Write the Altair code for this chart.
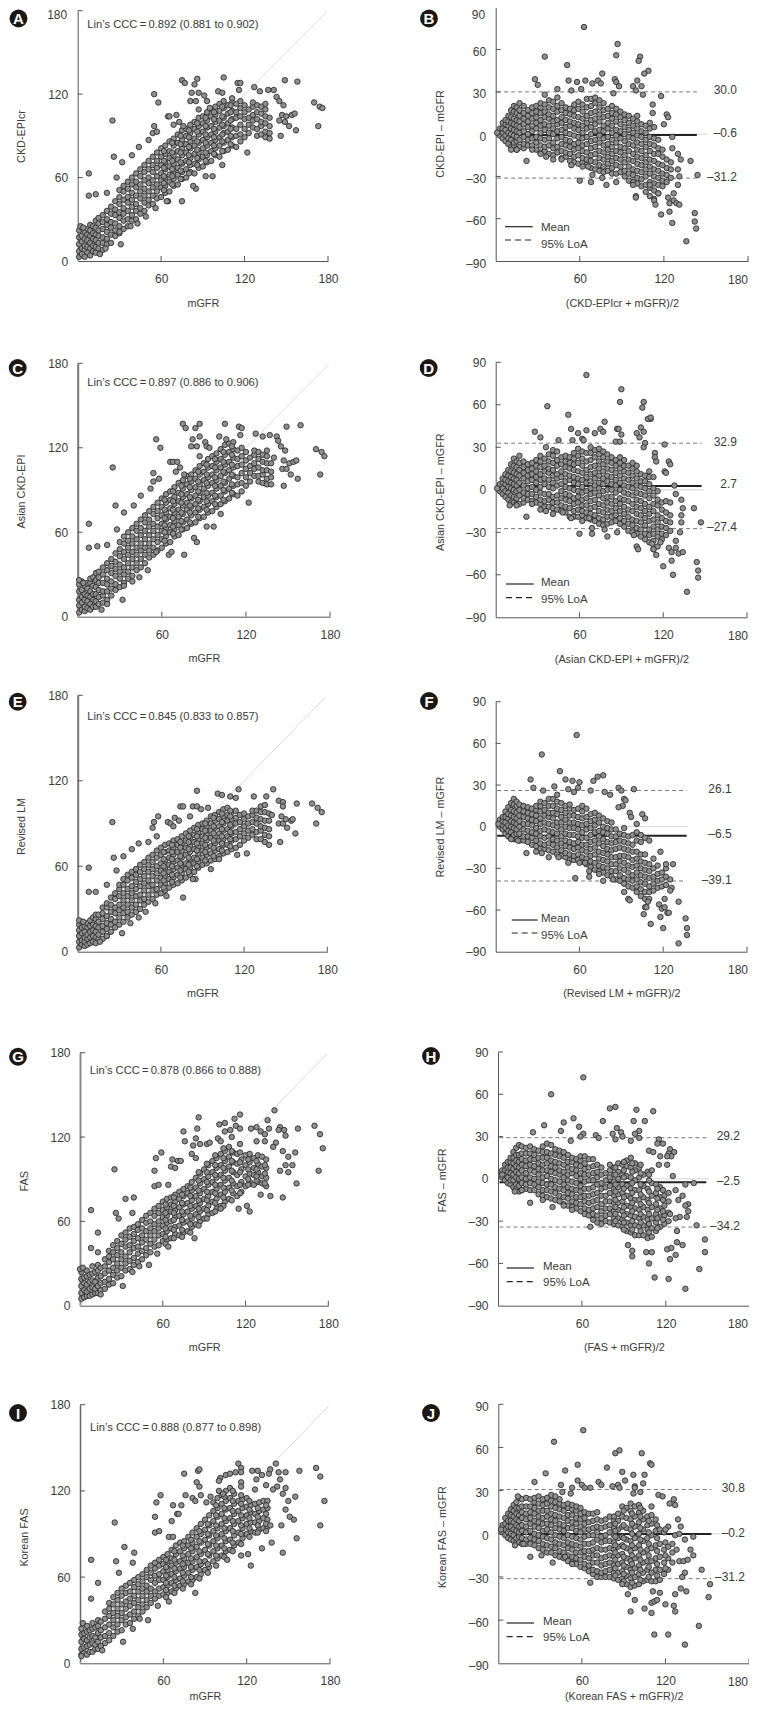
import altair as alt
import pandas as pd

FONT = "Liberation Sans"
INK = "#3a3a3a"
W, H = 741, 1696
FS = 12
TITLE_FS = 10.8

A_cloud = [[1,3,7,12,17,22],[3,5,9,14,18,24],[5,3,8,11,16,21],[7,6,10,15,19,23],[9,4,9,13,18,22,26],[11,7,11,16,20,25],[13,6,10,15,19,24,29],[15,9,13,18,22,27,31],[18,8,13,17,23,28,33],[21,12,16,21,26,30,36],[24,13,19,24,28,34,39],[27,18,22,27,33,37,43],[30,20,25,31,35,41,46,51],[33,23,29,34,38,44,50,54],[36,25,30,36,42,46,52,57],[39,29,33,39,44,49,55,60],[42,30,36,41,47,53,57,63],[45,34,38,45,50,55,61,66],[48,36,42,47,52,58,64,69],[51,40,44,50,56,60,66,72],[54,41,47,53,58,64,69,75],[57,45,50,55,61,67,72,78],[60,46,53,58,63,69,75,81],[63,49,54,60,66,71,77,83],[66,50,57,62,68,74,79,86],[69,54,59,65,70,76,83,88],[72,55,62,67,73,79,85,91],[75,59,64,70,76,81,87,94],[78,60,66,72,78,84,90,95],[81,64,69,74,81,86,92,98],[84,63,70,77,83,88,95,100],[87,67,73,78,85,91,97,103],[90,68,75,81,87,93,99,104],[93,71,76,83,89,96,101,107],[96,72,79,85,91,97,104,109],[99,76,81,87,93,100,105,111],[102,75,83,89,96,101,108,113],[105,79,85,92,97,103,110,115],[108,80,87,93,99,106,112],[111,83,89,96,102,108,114,117],[114,82,90,95,103,107,113],[117,86,91,98,104,110,115],[120,89,95,102,107,112],[123,92,98,103,109],[126,96,101,105,111,114],[129,90,95,102,107,112],[132,91,97,100,106,111],[135,89,93,99,104,109,113],[138,88,92,97,103]]
A_fill = [[62,51,56,61,67,72,79],[68,55,61,66,72,78,85],[74,59,65,71,78,84,90],[80,63,71,76,82,89,94],[86,69,74,80,86,93,99],[92,72,78,85,91,97,103],[98,77,83,89,95,102,107],[104,79,86,91,98,104,111],[110,84,90,95,101,107,112]]
A_out = [(8,63),(8,47),(13,48),(21,49),(25,101),(26,75),(32,71),(39,76),(28,60),(55,97),(55,120),(58,114),(51,87),(44,82),(54,92),(57,93),(65,104),(66,104),(71,105),(73,100),(69,98),(76,97),(75,130),(77,128),(86,131),(84,127),(82,121),(87,121),(81,115),(85,115),(91,119),(93,115),(95,110),(87,109),(105,132),(101,122),(104,121),(115,128),(117,128),(116,123),(127,125),(131,122),(137,123),(141,123),(149,130),(158,129),(143,118),(145,115),(148,112),(147,105),(150,104),(154,105),(156,106),(145,101),(149,100),(152,97),(157,94),(146,90),(170,114),(174,111),(176,110),(173,97),(122,78),(104,69),(97,61),(92,61),(85,52),(83,54),(75,43),(65,43),(64,43),(56,38),(49,32),(43,27),(38,25),(31,12),(30,21),(16,5),(20,9),(2,25),(4,24)]

C_cloud = [[1,3,8,12,18,23],[3,5,10,14,19,25],[5,4,7,12,16,22],[7,6,11,15,20,24],[9,5,9,14,18,24,27],[11,7,12,16,22,28],[13,7,11,16,21,26,31],[15,9,14,19,24,28,32],[18,10,15,18,24,30,35],[21,12,18,23,27,33,38],[24,15,20,25,31,36,41],[27,19,23,29,34,39,45],[30,21,27,32,37,43,48,53],[33,24,30,35,41,46,52,57],[36,27,32,38,44,49,54,60],[39,29,35,41,46,52,57,63],[42,33,38,44,49,55,61,66],[45,35,41,47,52,58,63,69],[48,38,44,49,55,61,67,72],[51,42,47,52,58,64,69,75],[54,44,49,55,61,66,73,78],[57,47,53,58,64,70,75,81],[60,49,55,61,66,72,78,84],[63,52,57,63,69,74,81,87],[66,53,60,65,71,77,83,89],[69,57,62,68,74,80,85,92],[72,58,65,71,76,82,88,95],[75,62,67,73,79,85,91,97],[78,63,69,76,81,87,94,100],[81,66,72,78,84,90,96,101],[84,67,74,80,86,92,98,104],[87,70,76,82,88,94,101,107],[90,71,78,85,91,97,103,109],[93,74,80,86,93,99,106,112],[96,75,82,88,95,101,107,114],[99,78,85,91,97,104,110,116],[102,80,86,93,100,106,112,119],[105,82,89,95,102,108,115,122],[108,84,91,98,104,110,117,123],[111,87,93,100,106,113,119,124],[114,86,94,99,107,112,118],[117,89,95,102,108,114,120],[120,93,99,105,111,117],[123,96,102,107,113],[126,100,105,109,115,118],[129,96,100,106,112,117],[132,95,101,104,110,115],[135,94,98,104,109,114,118],[138,94,99,103,109]]
C_fill = [[62,54,60,65,70,76,83],[68,59,64,70,76,82,89],[74,62,68,74,81,87,93],[80,67,74,79,85,92,98],[86,71,77,83,89,96,103],[92,76,82,88,95,101,108],[98,80,86,93,99,106,112],[104,83,90,96,103,110,117],[110,88,94,101,108,115,121]]
C_out = [(8,66),(8,49),(14,50),(21,51),(25,106),(27,79),(33,74),(40,79),(28,62),(54,102),(56,126),(59,120),(52,91),(45,86),(54,96),(58,98),(66,110),(68,110),(71,110),(73,106),(70,103),(76,101),(75,137),(77,134),(87,137),(84,134),(82,126),(87,128),(81,121),(85,121),(91,124),(92,121),(94,120),(87,114),(105,137),(101,128),(106,126),(115,135),(117,134),(116,129),(127,130),(132,128),(137,129),(142,128),(149,135),(159,136),(143,125),(145,121),(148,118),(140,113),(146,105),(149,105),(147,111),(151,109),(154,110),(156,111),(152,101),(157,98),(147,93),(170,119),(174,117),(176,114),(173,101),(122,81),(102,73),(97,64),(92,64),(85,53),(83,56),(76,44),(65,44),(67,46),(56,46),(50,33),(44,28),(39,25),(32,12),(33,22),(17,5),(21,9),(1,26),(4,24)]

E_cloud = [[1,3,7,11,15,19],[3,5,8,13,17,21],[5,4,7,10,14,18],[7,5,9,12,17,20],[9,6,10,14,18,22],[11,7,11,15,19,24],[13,6,10,14,18,23,26],[15,9,12,17,21,26],[18,9,14,18,23,27,31],[21,11,16,20,25,31,34],[24,14,19,23,28,33,38],[27,17,21,27,31,37,41],[30,19,24,29,33,39,44,47],[33,21,27,31,36,41,47,51],[36,24,28,33,39,44,50,54],[39,26,31,36,41,46,52,56],[42,28,33,39,44,49,54,58],[45,30,36,40,46,51,56,61],[48,33,37,43,48,53,58,63],[51,35,40,46,50,56,61,66],[54,37,43,47,53,58,63,68],[57,40,44,50,55,60,66,71],[60,41,47,52,57,62,68,73],[63,43,48,53,59,64,70,75],[66,45,51,56,61,66,71,76],[69,47,52,58,63,68,73,78],[72,48,54,59,64,70,75,79],[75,50,55,61,66,71,76,81],[78,52,58,62,68,73,78,83],[81,54,59,65,70,74,80,85],[84,56,62,66,72,77,82,87],[87,59,63,69,74,79,84,89],[90,61,66,71,76,81,86,90],[93,62,68,73,78,82,88,92],[96,64,69,74,80,85,90,95],[99,65,71,76,81,87,92,96],[102,67,72,78,83,88,93,98],[105,69,75,79,85,90,95,100],[108,70,75,81,86,92,96,101],[111,72,78,83,88,93,98],[114,73,79,84,90,94,99],[117,75,81,86,91,96],[120,78,83,88,93,97],[123,80,85,90,95],[126,82,86,91,96,99],[129,79,84,90,94,99],[132,79,85,88,93,98,102],[135,77,82,87,92,98,103],[138,75,81,86,92,97]]
E_fill = [[62,45,50,55,60,65,70],[68,49,54,60,65,70,75],[74,52,57,62,67,73,77],[80,56,61,66,72,77,81],[86,60,65,71,76,81,86],[92,64,70,75,80,85,90],[98,67,73,78,83,88,94],[104,71,76,81,86,91,97],[110,74,79,84,89,95,99]]
E_out = [(8,59),(8,42),(13,42),(21,47),(25,91),(26,66),(33,67),(39,72),(28,57),(58,95),(55,91),(54,87),(57,81),(44,76),(51,77),(65,91),(67,90),(70,94),(73,92),(69,88),(74,102),(76,102),(86,113),(83,102),(86,102),(89,100),(94,101),(81,95),(101,111),(104,110),(110,109),(116,114),(114,108),(127,109),(136,109),(141,114),(145,106),(148,105),(148,102),(158,104),(140,96),(147,95),(145,90),(148,90),(150,93),(154,92),(155,93),(151,87),(157,83),(146,77),(169,104),(173,101),(176,98),(172,90),(122,69),(115,68),(102,65),(96,58),(85,51),(83,51),(76,38),(64,39),(56,34),(49,28),(44,24),(38,20),(32,13),(16,7),(21,11),(1,22),(4,21)]

G_cloud = [[1,5,9,14,19,24],[3,6,11,16,20],[5,7,10,15,21,25],[7,7,12,17,22],[9,8,13,18,23,28],[11,9,12,17,24],[13,9,14,20,25,29],[15,11,16,21,27],[18,12,17,23,28,33],[21,15,19,25,31,35,39],[24,16,22,27,33,38,43],[27,20,25,30,36,41,46],[30,21,27,33,38,44,50],[33,25,30,35,42,47,52],[36,26,32,38,43,49,55],[39,29,34,41,46,51,56],[42,31,37,42,48,54,58],[45,33,39,45,50,55,61],[48,36,41,47,53,59,64],[51,38,44,50,55,60,66],[54,42,47,53,58,64,69],[57,43,50,55,60,66,71],[60,46,51,57,63,68,74],[63,47,53,59,64,70,76],[66,48,55,60,67,72,77],[69,51,56,63,68,74,79],[72,50,57,64,70,76,81],[75,52,59,65,72,78,83],[78,53,60,67,73,80,85],[81,56,62,69,75,82,88],[84,58,65,71,78,84,91],[87,60,67,73,80,87,94],[90,62,69,76,83,90,97],[93,65,71,78,86,92,100],[96,66,74,81,88,95,103],[99,69,76,83,91,98,105],[102,71,79,86,93,100,108],[105,74,81,89,96,103,110],[108,76,84,91,99,106,113],[111,80,87,95,102,109],[114,78,85,93,101,108],[117,81,88,97,104],[120,85,92,100,107],[123,88,94,102,108],[126,86,93,98,105],[129,88,95,101,107],[132,87,92,99,106],[135,85,91,98,104]]
G_fill = [[62,44,49,55,61,66,72],[68,48,54,61,66,71,77],[74,49,54,61,67,73,79],[80,52,58,64,71,78,84],[86,57,63,69,75,82,89,95],[92,62,68,75,81,88,95,101],[98,67,73,80,86,93,100,107],[104,71,77,84,91,98,105,112],[110,75,82,89,96,103,110],[116,80,86,95,102,109],[122,86,90,97,104],[128,89,92,97,103],[134,87,94,100]]
G_out = [(8,68),(8,41),(13,52),(13,38),(25,97),(26,66),(28,62),(33,76),(39,77),(38,66),(31,14),(38,24),(43,28),(50,29),(55,105),(59,109),(54,96),(54,85),(57,86),(64,86),(66,99),(67,104),(69,98),(71,103),(73,103),(75,124),(76,117),(86,134),(85,126),(84,119),(87,115),(82,114),(81,108),(84,105),(92,115),(94,116),(101,129),(105,130),(100,119),(102,117),(105,124),(109,125),(110,120),(112,133),(116,136),(113,128),(116,126),(116,115),(124,126),(128,127),(131,124),(137,126),(136,132),(141,139),(145,127),(148,125),(149,121),(144,125),(142,116),(140,113),(134,122),(134,117),(128,117),(147,110),(151,106),(156,109),(158,126),(170,128),(174,122),(176,112),(173,96),(149,100),(154,100),(145,96),(151,95),(157,87),(147,77),(138,78),(131,79),(115,69),(121,71),(123,67),(102,69),(83,48),(64,42),(56,37),(15,8),(0,26),(2,27)]

I_cloud = [[1,6,10,15,20,24],[3,7,11,17,21],[5,6,12,16,22,26],[7,8,13,18,23],[9,8,14,19,24,28],[11,10,13,18,25],[13,10,15,21,26,30],[15,12,18,23,29],[18,14,19,25,31,36],[21,16,21,27,33,38,42],[24,19,25,30,35,41,46],[27,22,27,33,38,44,49],[30,23,30,35,41,47,52],[33,27,32,38,43,49,54],[36,28,34,40,45,50,56],[39,31,36,42,47,53,58],[42,33,39,44,50,55,60],[45,36,41,47,52,57,62],[48,39,44,50,54,60,65],[51,42,47,52,58,63,68],[54,45,50,56,61,66,70],[57,47,52,58,62,68,72],[60,48,53,58,64,69,74],[63,49,54,60,65,71,76],[66,50,56,62,68,73,79],[69,52,58,64,70,76,82],[72,54,59,66,71,78,84],[75,55,61,67,73,80,85],[78,57,63,70,76,82,88],[81,58,65,71,78,84,91],[84,60,67,74,81,88,94],[87,62,69,76,84,90,97],[90,65,71,79,86,93,100],[93,67,75,82,89,96,103],[96,71,78,85,92,99,106,112],[99,73,80,87,94,102,108,115],[102,75,82,90,97,104,111,117],[105,78,85,92,99,107,113,120],[108,79,86,94,101,108,115,122],[111,82,89,97,104,111,118],[114,84,91,99,106,113],[117,87,94,101,108,114],[120,90,97,103,109,115],[123,92,98,105,110],[126,91,98,104,111],[129,93,99,106,112],[132,94,101,107,113],[135,95,100,108,113]]
I_fill = [[62,46,51,56,61,67,72],[68,49,54,60,66,72,78],[74,52,57,63,69,75,82],[80,55,60,67,73,80,86],[86,59,65,71,78,85,92],[92,63,69,76,83,90,97],[98,68,75,82,89,96,103,110],[104,74,80,87,94,101,108,116],[110,78,84,92,99,106,113,120],[116,83,90,96,103,111,117],[122,88,94,101,107,113],[128,91,96,102,108],[134,92,97,104,110]]
I_out = [(8,72),(8,45),(13,56),(25,98),(26,71),(32,81),(39,77),(38,70),(28,63),(31,15),(38,24),(49,30),(43,31),(56,40),(64,43),(83,49),(55,112),(58,117),(54,102),(54,91),(57,92),(64,88),(67,88),(66,99),(67,110),(70,104),(71,104),(73,110),(75,132),(76,117),(85,134),(86,135),(84,126),(86,123),(81,115),(83,113),(87,117),(91,112),(94,116),(101,129),(100,127),(105,131),(108,132),(112,133),(114,139),(116,136),(116,133),(100,120),(103,118),(116,126),(116,123),(124,134),(128,134),(131,131),(136,132),(137,135),(141,139),(143,133),(148,133),(144,128),(142,123),(139,121),(134,124),(127,128),(126,121),(148,122),(146,118),(155,116),(158,134),(170,136),(173,130),(176,113),(173,96),(150,113),(148,107),(151,102),(154,100),(145,96),(137,96),(156,87),(146,77),(138,84),(131,80),(116,75),(121,76),(123,68),(106,72),(2,28),(16,9),(1,5)]

B_cloud = [[3,-1,2,4],[5,-3,1,4,8],[7,-5,-1,3,7,10],[9,-7,-3,1,6,9,13],[11,-9,-4,0,4,8,12,17],[13,-8,-6,-1,3,7,11,16,20],[15,-11,-5,-2,2,6,10,15,19],[17,-9,-4,1,5,9,13,17,22],[20,-10,-7,-2,2,7,11,15,20],[23,-8,-4,0,5,9,13,17],[26,-8,-3,2,6,11,15,19],[29,-11,-6,-2,4,8,12,16,20],[32,-13,-8,-3,1,6,10,15,19,22],[35,-12,-9,-4,3,7,12,16,21],[38,-14,-8,-3,1,6,11,14,19,24],[41,-15,-10,-6,0,4,9,13,18,23],[44,-13,-9,-3,2,7,10,16,20,26],[47,-17,-12,-7,-2,3,8,12,17,22],[50,-16,-13,-8,-4,1,5,10,15,19],[53,-19,-14,-9,-5,0,6,9,14,18],[56,-20,-16,-11,-7,-1,4,8,13,17,21],[59,-21,-15,-10,-6,-2,3,7,12,18,23],[62,-20,-17,-12,-8,-3,1,6,11,16,21],[65,-22,-18,-13,-7,-2,4,8,13,19,25],[68,-24,-19,-15,-10,-5,0,5,10,15,20,25],[71,-25,-20,-14,-9,-4,2,7,11,16,22,26],[74,-26,-22,-17,-12,-6,-1,3,9,14,19,24],[77,-27,-23,-18,-13,-8,-3,2,6,12,17,22],[80,-26,-21,-16,-11,-7,-2,4,8,13,18],[83,-28,-24,-19,-14,-9,-4,1,6,11,15,20],[86,-28,-22,-17,-12,-6,-1,3,9,14,18],[89,-27,-23,-18,-13,-9,-3,2,7,12,16],[92,-30,-26,-20,-15,-10,-5,0,5,10,14],[95,-33,-28,-23,-18,-12,-7,-2,3,8,13],[98,-34,-29,-25,-19,-14,-8,-3,1,6,11],[101,-35,-31,-26,-21,-16,-11,-6,-1,4,9,13],[104,-37,-32,-27,-22,-17,-12,-7,-2,2,7],[107,-41,-36,-30,-25,-20,-15,-9,-4,1,6],[110,-44,-38,-34,-28,-23,-18,-12,-7,-2,4,8],[113,-46,-40,-35,-30,-25,-19,-14,-8,-3,5],[116,-42,-36,-31,-26,-21,-14,-10,-4],[119,-37,-33,-28,-22,-16,-11],[122,-34,-29,-24,-18],[125,-31,-25,-20]]
B_out = [(63,76),(87,64),(86,56),(103,55),(102,52),(109,45),(106,43),(35,55),(51,49),(28,39),(30,35),(52,38),(58,37),(64,38),(69,36),(73,38),(75,36),(76,43),(85,39),(86,37),(88,34),(98,34),(101,38),(100,31),(104,34),(105,28),(118,27),(112,21),(112,15),(122,14),(123,12),(120,7),(35,28),(44,32),(54,31),(61,32),(84,29),(22,-19),(11,-11),(15,-11),(26,-11),(32,-14),(36,-16),(41,-18),(47,-18),(54,-22),(60,-33),(62,-23),(66,-23),(69,-29),(68,-34),(76,-31),(79,-36),(86,-34),(98,-36),(100,-44),(100,-45),(110,-36),(113,-47),(114,-50),(116,-42),(118,-57),(123,-45),(124,-49),(124,-55),(126,-63),(127,-42),(127,-47),(129,-49),(131,-50),(130,-36),(131,-30),(130,-25),(132,-18),(130,-14),(126,-10),(126,-2),(139,-19),(144,-29),(142,-56),(142,-62),(143,-67),(136,-76),(1,1)]

D_cloud = [[3,-1,2,4],[5,-3,1,5,8],[7,-5,-1,4,7,11],[9,-7,-2,2,6,10,14],[11,-9,-4,1,5,9,13,18],[13,-9,-5,0,4,8,12,17,22],[15,-10,-6,-1,3,7,11,16,20],[17,-10,-4,0,5,10,14,19,24],[20,-9,-6,-2,3,8,12,16,20],[23,-7,-3,1,6,10,14,18],[26,-8,-3,2,7,11,15,19],[29,-9,-5,0,5,9,13,17,21],[32,-10,-7,-2,2,7,11,16,20,24],[35,-12,-8,-3,4,8,13,17,22],[38,-12,-7,-3,2,7,12,15,20,25],[41,-13,-9,-5,1,5,10,14,19,24,28],[44,-14,-9,-4,3,8,11,17,21,27],[47,-15,-11,-6,-1,4,9,13,18,23],[50,-16,-12,-7,-3,2,6,11,16,20,24],[53,-19,-13,-8,-4,1,7,10,15,19,23],[56,-19,-15,-10,-6,0,5,9,14,18,22,26],[59,-19,-14,-9,-5,-1,4,8,13,19,24,29],[62,-18,-15,-11,-7,-2,2,7,12,17,22,27],[65,-20,-16,-11,-6,-1,5,9,14,20,26],[68,-21,-17,-13,-8,-3,1,6,11,16,21,26,30],[71,-22,-18,-12,-7,-2,3,8,12,17,23,28],[74,-24,-20,-15,-10,-4,1,5,10,15,20,25,29],[77,-25,-21,-16,-11,-6,-1,4,8,13,18,23,27],[80,-24,-19,-14,-9,-5,0,6,10,15,20,25],[83,-23,-19,-15,-10,-5,0,4,9,14,19,23],[86,-22,-18,-13,-8,-2,3,7,12,17,21],[89,-24,-20,-15,-10,-6,0,5,10,15,19,23],[92,-26,-22,-17,-12,-7,-2,3,8,13,17,21],[95,-29,-24,-19,-14,-8,-3,2,7,12,17],[98,-30,-25,-21,-15,-10,-4,1,5,10,15,19],[101,-31,-27,-22,-17,-12,-7,-2,3,8,13,17],[104,-33,-28,-23,-18,-13,-8,-3,2,6,11],[107,-35,-31,-25,-20,-15,-10,-4,1,6,10],[110,-37,-32,-28,-22,-17,-12,-6,-1,4,9,13],[113,-42,-36,-31,-26,-21,-15,-10,-4,1,9],[116,-40,-33,-28,-23,-18,-11,-7,-1],[119,-35,-31,-26,-20,-14,-9],[122,-32,-27,-22,-16,-8],[125,-29,-23,-18,-9]]
D_out = [(65,81),(90,71),(89,62),(106,62),(105,58),(111,50),(109,50),(111,51),(37,59),(52,53),(28,41),(32,37),(54,43),(59,40),(65,42),(71,40),(75,43),(77,41),(78,48),(87,43),(88,43),(90,39),(86,34),(89,34),(101,40),(104,44),(106,41),(103,37),(107,33),(106,30),(121,32),(114,26),(114,23),(115,20),(124,20),(125,18),(121,13),(122,12),(36,30),(45,35),(55,35),(62,36),(63,35),(22,-19),(10,-11),(15,-11),(26,-10),(32,-14),(36,-15),(41,-17),(48,-16),(54,-20),(60,-31),(62,-22),(67,-20),(69,-27),(69,-31),(78,-28),(80,-33),(87,-30),(99,-32),(101,-40),(102,-42),(112,-38),(113,-42),(115,-46),(118,-37),(120,-54),(124,-41),(126,-44),(126,-50),(127,-60),(129,-36),(129,-41),(131,-45),(134,-44),(132,-30),(133,-23),(133,-18),(134,-13),(133,-7),(129,-3),(128,3),(142,-13),(147,-23),(144,-51),(145,-57),(145,-62),(137,-72),(1,1)]

F_cloud = [[3,0,3,5],[5,-2,1,4,7],[7,-5,-1,3,7,11],[9,-7,-3,1,6,9,14],[11,-8,-4,0,4,8,12,17],[13,-9,-6,-1,3,7,11,16,20],[15,-9,-5,-2,2,6,10,15,18],[17,-10,-5,0,4,8,12,16],[20,-10,-7,-2,2,7,11,15],[23,-11,-7,-3,2,6,10,14],[26,-13,-8,-4,1,5,9,13],[29,-14,-10,-5,-1,4,8,12,15],[32,-16,-12,-7,-3,2,6,11,15,18],[35,-16,-13,-8,-2,3,8,12,17],[38,-17,-12,-7,-3,2,7,10,15,20],[41,-18,-13,-9,-4,1,6,10,15,20],[44,-20,-15,-10,-5,0,3,9,13,18,23],[47,-21,-17,-12,-7,-2,3,7,12,17],[50,-22,-19,-14,-10,-5,0,5,10,15],[53,-24,-20,-15,-11,-6,-1,3,8,13,16],[56,-24,-21,-16,-12,-6,-1,3,8,12],[59,-24,-20,-15,-11,-7,-2,2,7,13],[62,-25,-22,-17,-13,-8,-4,1,6,11,15],[65,-27,-23,-18,-13,-8,-2,2,7,13],[68,-29,-25,-21,-16,-11,-6,-1,4,9],[71,-31,-26,-20,-15,-10,-4,1,5,10],[74,-32,-28,-23,-18,-12,-7,-3,3,8],[77,-33,-29,-24,-19,-14,-9,-4,0,6],[80,-35,-30,-25,-20,-16,-11,-5,-1,4],[83,-36,-32,-27,-22,-17,-12,-7,-2,3],[86,-38,-32,-27,-22,-16,-11,-7,-2],[89,-39,-35,-30,-25,-21,-15,-10,-5],[92,-41,-37,-31,-26,-21,-16,-11,-6,-1],[95,-43,-38,-33,-28,-22,-17,-12,-7],[98,-44,-39,-35,-29,-24,-18,-13,-6],[101,-47,-43,-38,-33,-28,-23,-18,-10,-4],[104,-50,-45,-40,-35,-30,-25,-20,-11,-6],[107,-52,-47,-41,-36,-31,-26,-20,-8],[110,-52,-47,-43,-37,-32,-27,-10],[113,-46,-41,-36,-30,-23],[116,-44,-39,-34,-28],[119,-43,-38,-33],[122,-42,-36,-30]]
F_out = [(58,66),(33,52),(46,40),(50,34),(25,34),(55,33),(60,32),(59,28),(70,33),(73,36),(77,37),(27,28),(34,26),(42,29),(52,27),(56,25),(68,26),(88,28),(90,26),(99,27),(78,25),(82,23),(92,20),(93,19),(91,15),(88,14),(96,10),(105,9),(107,6),(97,7),(101,2),(11,-9),(16,-10),(22,-19),(29,-18),(33,-19),(38,-22),(45,-22),(52,-26),(57,-37),(60,-26),(64,-26),(67,-32),(67,-36),(77,-39),(84,-38),(74,-34),(92,-47),(95,-52),(96,-53),(106,-63),(107,-58),(108,-58),(111,-70),(109,-54),(120,-73),(117,-56),(119,-59),(121,-52),(121,-58),(123,-62),(124,-62),(118,-65),(131,-54),(126,-44),(125,-46),(125,-38),(127,-27),(122,-27),(118,-18),(136,-66),(137,-73),(137,-78),(131,-84),(2,2)]

H_cloud = [[3,1,4,6],[5,-1,3,6,10],[7,-3,1,5,8,12],[9,-4,-1,4,8,12,15],[11,-6,-1,3,7,11,15,19],[13,-7,-4,1,5,9,13,17,22],[15,-9,-5,0,4,8,12,17,24],[17,-8,-3,1,6,10,14,18,23],[20,-7,-4,0,4,9,13,18,22],[23,-8,-3,1,6,10,14,18,23],[26,-8,-4,0,5,9,14,17,21],[29,-11,-6,-2,3,7,11,15,20],[32,-12,-8,-3,1,6,10,15,19,23],[35,-13,-8,-4,2,6,11,15,19,25],[38,-14,-9,-4,0,5,9,13,18,24],[41,-15,-10,-6,-1,4,8,12,17,21],[44,-16,-12,-7,-2,3,6,11,16,20],[47,-18,-13,-8,-4,1,5,10,15,19],[50,-19,-14,-10,-6,-1,3,8,12,17],[53,-20,-16,-11,-7,-2,4,7,12,15],[56,-21,-17,-13,-8,-3,2,6,10,14],[59,-23,-18,-13,-9,-5,0,4,9,13,16],[62,-25,-21,-16,-12,-7,-2,3,7,11,16],[65,-26,-22,-17,-12,-7,-1,3,8,14],[68,-29,-25,-21,-16,-11,-6,-1,4,9,14],[71,-31,-26,-20,-15,-10,-4,1,5,10],[74,-32,-28,-23,-18,-12,-7,-3,3,8],[77,-30,-26,-21,-16,-12,-6,-1,4],[80,-31,-25,-21,-16,-10,-5,1,6,10],[83,-32,-28,-23,-17,-12,-7,-2,3,8],[86,-33,-28,-22,-17,-11,-6,0,5,11],[89,-34,-29,-23,-16,-10,-4,3,10],[92,-37,-31,-25,-19,-12,-5,2,9,13],[95,-38,-33,-26,-20,-14,-7,1,8,15],[98,-40,-33,-27,-21,-15,-8,-1,6,11],[101,-40,-34,-28,-22,-15,-8,1,8],[104,-40,-33,-27,-20,-13,-5,3],[107,-42,-36,-29,-22,-15,-7,5],[110,-41,-35,-28,-20,-12,-3,6],[113,-37,-31,-25,-18,-10,-4],[116,-34,-27,-21,-13,-6],[119,-32,-26,-19,-12],[122,-30,-24,-16,-10]]
H_fill = [[84,-30,-25,-20,-15,-9,-4,3,8],[90,-36,-31,-26,-20,-13,-7,1,6,12],[96,-36,-30,-23,-17,-10,-3,5,11],[102,-37,-31,-25,-18,-11,-4,4,10],[108,-38,-32,-25,-17,-9,-1,3],[114,-35,-28,-22,-14,-7],[118,-29,-23,-15,-8]]
H_out = [(61,72),(38,60),(80,50),(84,51),(99,49),(111,48),(47,40),(54,43),(45,34),(33,38),(25,33),(75,41),(58,37),(85,36),(82,32),(88,33),(89,30),(84,28),(97,41),(105,41),(101,34),(98,32),(101,29),(95,27),(61,32),(59,30),(70,31),(72,29),(52,27),(108,20),(115,28),(114,25),(118,25),(111,19),(123,21),(126,19),(122,18),(124,16),(121,16),(121,10),(116,16),(115,10),(125,2),(12,-9),(17,-8),(23,-17),(32,-15),(39,-20),(47,-19),(53,-22),(66,-34),(96,-55),(93,-47),(96,-51),(106,-52),(110,-52),(108,-60),(112,-70),(122,-71),(121,-50),(124,-49),(123,-57),(127,-54),(128,-45),(132,-47),(128,-37),(130,-27),(127,-28),(123,-25),(135,-27),(136,-18),(134,-19),(136,-23),(132,-12),(129,-15),(127,-8),(134,-4),(140,-3),(142,-33),(148,-43),(148,-52),(144,-64),(134,-78),(3,3)]

J_cloud = [[3,1,4,6],[5,-1,3,7,11],[7,-3,1,5,9,14],[9,-4,0,5,9,13,17],[11,-5,-1,3,8,12,16,20],[13,-6,-3,2,6,10,14,18,22],[15,-6,-2,1,5,9,13,18,25],[17,-7,-3,2,6,11,15,19,24],[20,-7,-4,1,5,10,14,19,25],[23,-7,-3,2,7,11,15,19,24],[26,-8,-4,0,5,9,14,18,22,25],[29,-10,-5,-1,4,8,12,16,21,26],[32,-11,-7,-2,2,7,11,16,20,24],[35,-13,-8,-3,3,7,12,16,21,25],[38,-13,-9,-4,1,6,10,14,19,23,27],[41,-15,-10,-6,-1,4,9,13,18,22,26],[44,-16,-12,-7,-2,3,7,12,17,21,24],[47,-17,-13,-8,-3,2,6,11,16,20],[50,-19,-15,-10,-6,-1,4,9,13,18,21],[53,-20,-16,-11,-7,-2,4,8,13,17,20],[56,-21,-17,-13,-8,-3,2,7,11,16,19],[59,-23,-18,-13,-9,-4,1,5,10,14,18],[62,-24,-21,-16,-12,-7,-2,3,7,11,15],[65,-26,-22,-17,-12,-7,-1,3,8,14],[68,-28,-25,-20,-15,-11,-6,-1,4,9,14],[71,-30,-26,-20,-15,-10,-4,1,5,10,15],[74,-30,-27,-22,-17,-11,-6,-2,4,9],[77,-30,-26,-21,-16,-11,-5,-1,5,10],[80,-30,-25,-20,-15,-10,-5,1,6,12],[83,-31,-27,-22,-16,-11,-6,-1,4,9,12],[86,-32,-27,-21,-15,-9,-3,3,9,14],[89,-31,-26,-20,-14,-8,-2,5,12,19],[92,-35,-29,-23,-17,-10,-4,4,11,18],[95,-37,-31,-25,-19,-12,-5,3,10,16,21],[98,-36,-30,-24,-17,-10,-3,5,12,19],[101,-35,-28,-22,-15,-8,0,8,15,20],[104,-33,-27,-20,-13,-5,3,10,16],[107,-32,-25,-19,-11,-3,6,12],[110,-33,-27,-19,-10,-1,7,13],[113,-33,-25,-17,-8,2,10],[116,-32,-25,-16,-7,3],[119,-28,-20,-11,1],[122,-25,-17,-9,5],[125,-20,-13,-7]]
J_fill = [[84,-29,-24,-18,-13,-8,-2,2,7],[90,-33,-28,-22,-16,-9,-3,6,16],[96,-34,-27,-21,-15,-8,0,7,14],[102,-32,-25,-18,-11,-4,4,12,18],[108,-30,-23,-15,-7,1,9],[114,-29,-21,-12,-3,6],[120,-24,-15,-6,3]]
J_out = [(61,72),(40,64),(84,56),(87,58),(103,56),(109,49),(110,48),(48,44),(57,48),(34,42),(26,36),(78,46),(45,34),(57,37),(72,36),(74,34),(89,43),(91,37),(97,41),(105,41),(104,35),(98,33),(98,32),(82,33),(86,34),(87,32),(60,34),(62,32),(66,32),(53,32),(46,29),(52,28),(102,29),(97,28),(14,26),(115,27),(118,26),(126,24),(123,21),(127,20),(110,19),(129,10),(131,5),(127,-1),(130,0),(12,-8),(18,-7),(23,-16),(31,-15),(39,-20),(53,-21),(48,-16),(66,-34),(89,-35),(95,-54),(93,-42),(98,-46),(105,-52),(110,-55),(110,-48),(112,-47),(114,-46),(116,-41),(111,-40),(112,-70),(122,-70),(120,-49),(126,-50),(127,-54),(127,-42),(131,-38),(135,-40),(132,-30),(134,-27),(130,-19),(133,-19),(136,-18),(140,-15),(138,-11),(128,-11),(134,-4),(140,-2),(146,-25),(152,-35),(151,-44),(144,-64),(134,-77),(2,3)]


def frame(cloud, out):
    rows = [{"x": r[0], "y": v} for r in cloud for v in r[1:]]
    rows += [{"x": a, "y": b} for a, b in out]
    return pd.DataFrame(rows)


def sx(v):
    return v - 8


def badge(letter, cx, cy):
    d = pd.DataFrame({"t": [letter]})
    return [
        alt.Chart(d).mark_circle(size=320, color="#1c1714", opacity=1).encode(
            x=alt.value(sx(cx)), y=alt.value(sx(cy))),
        alt.Chart(d).mark_text(font="Liberation Sans", fontSize=15, fontWeight="bold", color="white").encode(
            x=alt.value(sx(cx)), y=alt.value(sx(cy) + 0.5), text="t:N"),
    ]


def note(text, px, py, align="left", fs=FS):
    return alt.Chart(pd.DataFrame({"t": [text]})).mark_text(
        font=FONT, fontSize=fs, color=INK, align=align, baseline="middle"
    ).encode(x=alt.value(sx(px)), y=alt.value(sx(py)), text="t:N")


def axes(L, R, T, B, xtitle, ytitle, yvalues, top_hidden, dw, dc, lo, ytitle_y, xt_y, hide_x180):
    top = max(yvalues)
    fmt = "datum.value<0 ? '\u2013'+abs(datum.value) : ''+datum.value"
    yexpr = f"datum.value=={top} ? '' : ({fmt})" if top_hidden else fmt
    xexpr = "datum.value==180 ? '' : ''+datum.value" if hide_x180 else "''+datum.value"
    ax = alt.Axis(orient="bottom", offset=sx(B) - H, values=[60, 120, 180], grid=False, ticks=False,
                  domainColor="#555", domainWidth=1, labelFont=FONT, labelFontSize=FS, labelColor=INK,
                  labelPadding=12.5, labelFlush=False, labelOverlap=False, labelExpr=xexpr,
                  title=xtitle, titleX=(L + R) / 2 - 8, titleY=xt_y, titleFont=FONT, titleFontSize=TITLE_FS,
                  titleColor=INK, titleFontWeight="normal", titleBaseline="middle", titleAlign="center", titleAnchor="middle")
    ay = alt.Axis(orient="left", offset=-sx(L), values=yvalues, grid=False, ticks=False,
                  domainColor=dc, domainWidth=dw, labelFont=FONT, labelFontSize=FS, labelColor=INK,
                  labelPadding=10, labelOffset=lo, labelFlush=False, labelOverlap=False, labelExpr=yexpr,
                  title=ytitle, titleX=-55.7, titleY=ytitle_y - 8, titleFont=FONT, titleFontSize=TITLE_FS,
                  titleColor=INK, titleFontWeight="normal", titleAngle=-90, titleBaseline="middle", titleAlign="center", titleAnchor="middle")
    return ax, ay


def ticks(xs, ys, L, B, yvals):
    xt = alt.Chart(pd.DataFrame({"v": [60, 120, 180]})).mark_rule(color="#555", strokeWidth=1).encode(
        x=alt.X("v:Q", scale=xs), y=alt.value(sx(B)), y2=alt.value(sx(B) - 5))
    yt = alt.Chart(pd.DataFrame({"v": yvals})).mark_rule(color="#555", strokeWidth=1).encode(
        y=alt.Y("v:Q", scale=ys), x=alt.value(sx(L)), x2=alt.value(sx(L) + 5))
    return [xt, yt]


def dots(df, xs, ys, ax, ay):
    return alt.Chart(df).mark_circle(size=30, fill="#8f8f8f", stroke="#2e2e2e", strokeWidth=0.9, opacity=1).encode(
        x=alt.X("x:Q", scale=xs, axis=ax), y=alt.Y("y:Q", scale=ys, axis=ay))


def agreement(L, R, T, B, xtitle, ytitle, ytitle_y, cloud, out, lin, letter, bx, by, dw=1, dc="#555", top=None, xt_y=42):
    xs = alt.Scale(domain=[0, 180], range=[sx(L), sx(R)], nice=False, zero=False)
    ys = alt.Scale(domain=[0, 180], range=[sx(B), sx(T)], nice=False, zero=False)
    ax, ay = axes(L, R, T, B, xtitle, ytitle, [0, 60, 120, 180], top is not None, dw, dc, 0, ytitle_y, xt_y, False)
    iden = alt.Chart(pd.DataFrame({"a": [0], "b": [179]})).mark_rule(color="#d9d9d9", strokeWidth=1).encode(
        x=alt.X("a:Q", scale=xs), x2="b:Q", y=alt.Y("a:Q", scale=ys), y2="b:Q")
    layers = [iden] + ticks(xs, ys, L, B, [60, 120, 180]) + [dots(frame(cloud, out), xs, ys, ax, ay)]
    layers.append(note(lin[0], lin[1], lin[2], fs=11.2))
    if top:
        layers.append(note("180", L - 10.5, top, "right"))
    layers += badge(letter, bx, by)
    return alt.layer(*layers)


def bland(L, R, T, B, xtitle, ytitle, ytitle_y, cloud, out, loa, end, zero_end, vals, vx, leg, letter, bx, by, lo=0, top=None, xt_y=42):
    xs = alt.Scale(domain=[0, 180], range=[sx(L), sx(R)], nice=False, zero=False)
    ys = alt.Scale(domain=[-90, 90], range=[sx(B), sx(T)], nice=False, zero=False)
    yv = [-90, -60, -30, 0, 30, 60, 90]
    ax, ay = axes(L, R, T, B, xtitle, ytitle, yv, top is not None, 1, "#555", lo, ytitle_y, xt_y, True)

    def hline(v, x1, color, width, dash=None):
        kw = {"strokeDash": dash} if dash else {}
        return alt.Chart(pd.DataFrame({"a": [1], "b": [x1], "v": [v]})).mark_rule(color=color, strokeWidth=width, **kw).encode(
            x=alt.X("a:Q", scale=xs), x2="b:Q", y=alt.Y("v:Q", scale=ys))

    layers = [hline(0, zero_end, "#d4d4d4", 1), hline(loa[1], end, "#222", 2),
              hline(loa[0], end, "#777", 1, [4, 3]), hline(loa[2], end, "#777", 1, [4, 3])]
    layers += ticks(xs, ys, L, B, [-60, -30, 0, 30, 60, 90])
    layers.append(dots(frame(cloud, out), xs, ys, ax, ay))
    for v, t in zip(loa, vals):
        layers.append(alt.Chart(pd.DataFrame({"v": [v], "t": [t]})).mark_text(
            font=FONT, fontSize=FS, color=INK, align="right", baseline="middle", dy=-1.5
        ).encode(x=alt.value(sx(vx)), y=alt.Y("v:Q", scale=ys), text="t:N"))
    x1, x2, y1, y2, tx, ty1, ty2 = leg
    d = pd.DataFrame({"t": ["k"]})
    layers.append(alt.Chart(d).mark_rule(color="#222", strokeWidth=1.2).encode(
        x=alt.value(sx(x1)), x2=alt.value(sx(x2)), y=alt.value(sx(y1))))
    layers.append(alt.Chart(d).mark_rule(color="#222", strokeWidth=1.2, strokeDash=[6, 4]).encode(
        x=alt.value(sx(x1)), x2=alt.value(sx(x2)), y=alt.value(sx(y2))))
    layers.append(note("Mean", tx, ty1, fs=11.5))
    layers.append(note("95% LoA", tx, ty2, fs=11.5))
    layers.append(note("180", 748, B + 18.5, "right"))
    if top:
        layers.append(note("90", L - 10.5, top, "right"))
    layers += badge(letter, bx, by)
    return alt.layer(*layers)


TS = "\u2009=\u2009"
panels = [
    agreement(77.7, 328, 10.7, 261, "mGFR", "CKD-EPIcr", 136, A_cloud + A_fill, A_out,
              (f"Lin\u2019s CCC{TS}0.892 (0.881 to 0.902)", 87.3, 25), "A", 18.5, 18.5, top=14.5),
    bland(495.7, 748, 7.3, 261, "(CKD-EPIcr + mGFR)/2", "CKD-EPI \u2013 mGFR", 133.5, B_cloud, B_out,
          [30.0, -0.6, -31.2], 143.5, 150.7, ["30.0", "\u20130.6", "\u201331.2"], 737,
          (505, 532.7, 226.7, 240, 541, 228, 245), "B", 429, 18.5, lo=2, top=14.5),
    agreement(77.7, 330, 363.3, 616.7, "mGFR", "Asian CKD-EPI", 491, C_cloud + C_fill, C_out,
              (f"Lin\u2019s CCC{TS}0.897 (0.886 to 0.906)", 87.3, 382.7), "C", 17.7, 368, dw=2, dc="#777"),
    bland(495.7, 747, 362.3, 617.3, "(Asian CKD-EPI + mGFR)/2", "Asian CKD-EPI \u2013 mGFR", 491.7, D_cloud, D_out,
          [32.9, 2.7, -27.4], 147.5, 149, ["32.9", "2.7", "\u201327.4"], 737,
          (506, 533.7, 584, 597.7, 541, 583, 600), "D", 428.7, 368),
    agreement(77.7, 327.3, 695.3, 951.7, "mGFR", "Revised LM", 826, E_cloud + E_fill, E_out,
              (f"Lin\u2019s CCC{TS}0.845 (0.833 to 0.857)", 87.3, 716.7), "E", 17.7, 701.7, dw=2, dc="#777"),
    bland(495.7, 747, 701.7, 951.7, "(Revised LM + mGFR)/2", "Revised LM \u2013 mGFR", 826.7, F_cloud, F_out,
          [26.1, -6.5, -39.1], 136.8, 137.7, ["26.1", "\u20136.5", "\u201339.1"], 731.7,
          (511.7, 537.6, 920, 933, 541, 919, 936), "F", 429, 701),
    agreement(80, 328.3, 1052.7, 1305.7, "mGFR", "FAS", 1180.7, G_cloud + G_fill, G_out,
              (f"Lin\u2019s CCC{TS}0.878 (0.866 to 0.888)", 89.7, 1071), "G", 18, 1056.7, dw=2, dc="#888"),
    bland(498, 749.7, 1052, 1305.7, "(FAS + mGFR)/2", "FAS \u2013 mGFR", 1180, H_cloud + H_fill, H_out,
          [29.2, -2.5, -34.2], 149, 150.6, ["29.2", "\u20132.5", "\u201334.2"], 740,
          (506.7, 534, 1268, 1281.7, 543, 1266.7, 1283), "H", 431, 1056),
    agreement(80, 330, 1404.7, 1663.3, "mGFR", "Korean FAS", 1537, I_cloud + I_fill, I_out,
              (f"Lin\u2019s CCC{TS}0.888 (0.877 to 0.898)", 90, 1428), "I", 18, 1413, dw=1.5, dc="#666", xt_y=33),
    bland(498.3, 749, 1404.3, 1663.3, "(Korean FAS + mGFR)/2", "Korean FAS \u2013 mGFR", 1536.7, J_cloud + J_fill, J_out,
          [30.8, -0.2, -31.2], 153, 159, ["30.8", "\u20130.2", "\u201331.2"], 745,
          (506.7, 534, 1623, 1636.7, 543, 1621.7, 1638), "J", 431, 1413, lo=2, xt_y=33),
]

chart = alt.layer(*panels).resolve_scale(x="independent", y="independent").resolve_axis(
    x="independent", y="independent"
).properties(
    width=W, height=H, padding=0,
    autosize=alt.AutoSizeParams(type="none", contains="padding"),
).configure_view(stroke=None)

chart.save("out.html", embed_options={"renderer": "svg", "actions": False})
